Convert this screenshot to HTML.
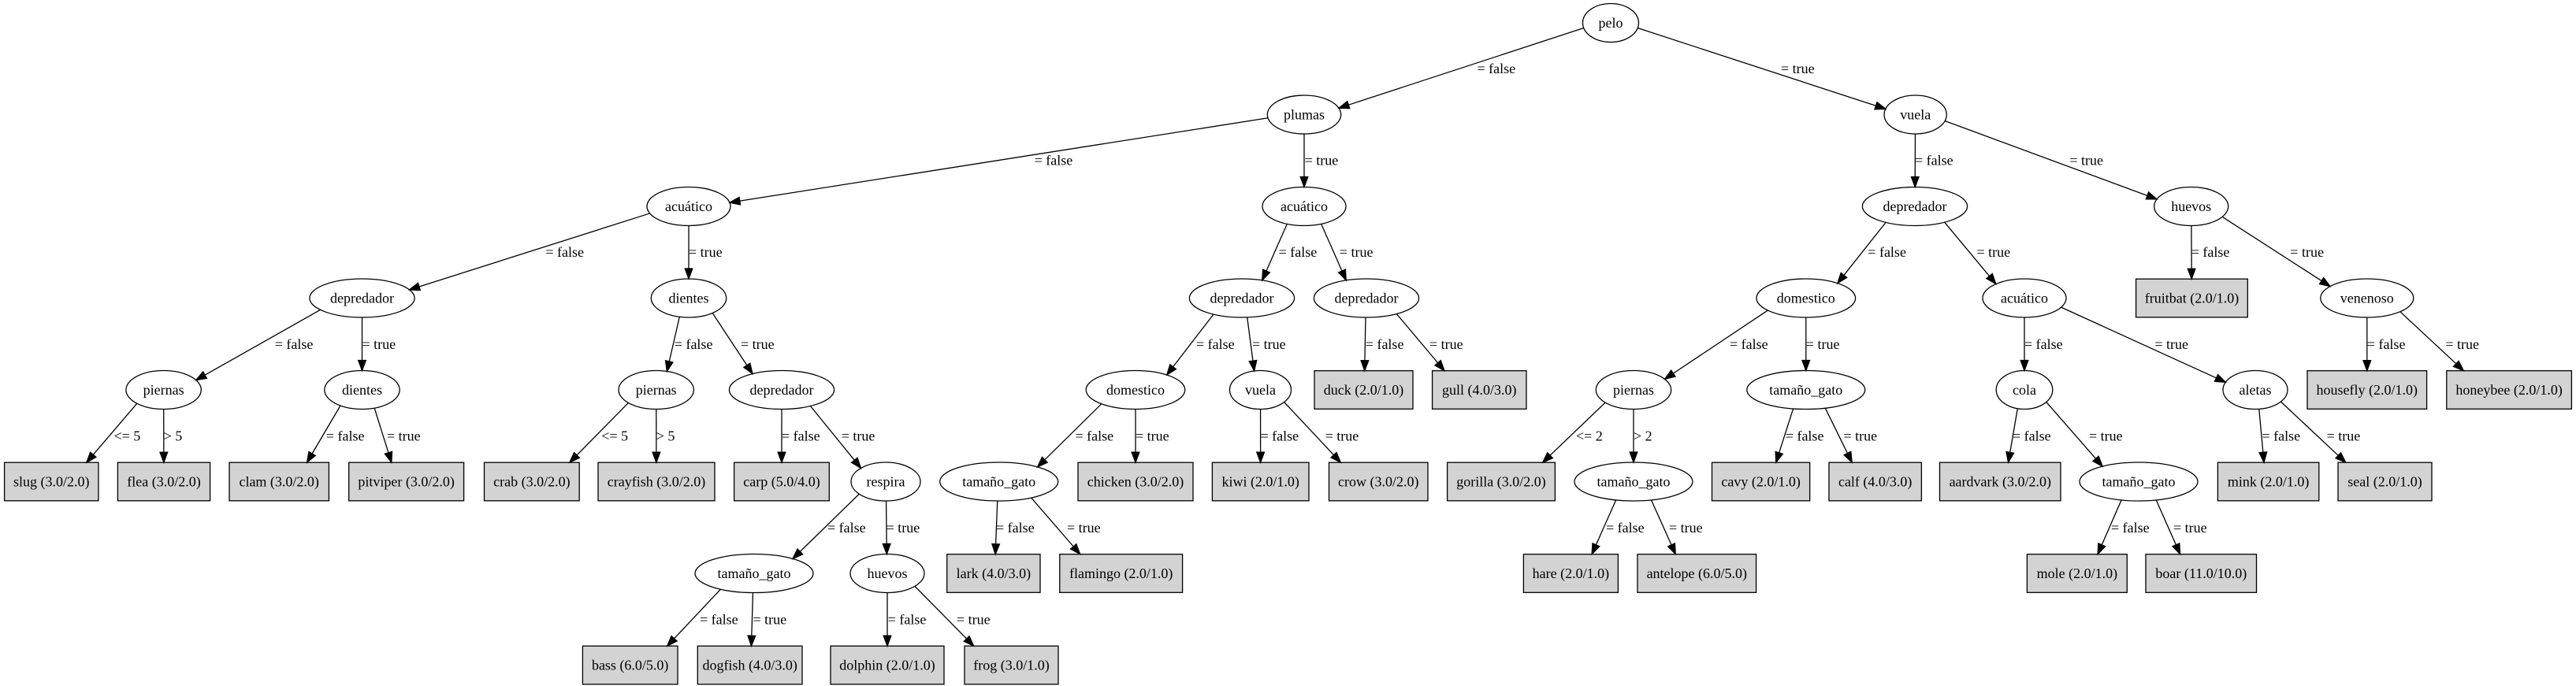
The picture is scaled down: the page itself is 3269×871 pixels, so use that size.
<!DOCTYPE html>
<html><head><meta charset="utf-8"><style>
html,body{margin:0;padding:0;background:#fff;}
svg{display:block;}
text{font-family:"Liberation Serif",serif;font-size:18px;fill:#000;}
.c{text-anchor:middle;}
</style></head><body>
<svg id="s" width="3269" height="871" viewBox="0 0 3269 871" xmlns="http://www.w3.org/2000/svg">
<rect width="3269" height="871" fill="#fff"/>
<g id="shapes"></g>
<g id="edges"></g>
<g id="ntext">
<text class="c" x="2044" y="35">pelo</text>
<text class="c" x="1655" y="151.5">plumas</text>
<text class="c" x="2430.7" y="151.5">vuela</text>
<text class="c" x="874" y="268">acuático</text>
<text class="c" x="1655" y="268">acuático</text>
<text class="c" x="2430" y="268">depredador</text>
<text class="c" x="2780.7" y="268">huevos</text>
<text class="c" x="459.5" y="384.5">depredador</text>
<text class="c" x="874" y="384.5">dientes</text>
<text class="c" x="1576" y="384.5">depredador</text>
<text class="c" x="1734" y="384.5">depredador</text>
<text class="c" x="2291.8" y="384.5">domestico</text>
<text class="c" x="2569" y="384.5">acuático</text>
<text class="c" x="2781.5" y="384.5">fruitbat (2.0/1.0)</text>
<text class="c" x="3003.8" y="384.5">venenoso</text>
<text class="c" x="207.6" y="501">piernas</text>
<text class="c" x="459.5" y="501">dientes</text>
<text class="c" x="832.7" y="501">piernas</text>
<text class="c" x="992" y="501">depredador</text>
<text class="c" x="1441" y="501">domestico</text>
<text class="c" x="1599.5" y="501">vuela</text>
<text class="c" x="1730.5" y="501">duck (2.0/1.0)</text>
<text class="c" x="1877.3" y="501">gull (4.0/3.0)</text>
<text class="c" x="2073" y="501">piernas</text>
<text class="c" x="2291.8" y="501">tamaño_gato</text>
<text class="c" x="2569" y="501">cola</text>
<text class="c" x="2862" y="501">aletas</text>
<text class="c" x="3003.8" y="501">housefly (2.0/1.0)</text>
<text class="c" x="3184.1" y="501">honeybee (2.0/1.0)</text>
<text class="c" x="65.3" y="617.5">slug (3.0/2.0)</text>
<text class="c" x="208" y="617.5">flea (3.0/2.0)</text>
<text class="c" x="354.2" y="617.5">clam (3.0/2.0)</text>
<text class="c" x="515.6" y="617.5">pitviper (3.0/2.0)</text>
<text class="c" x="674.9" y="617.5">crab (3.0/2.0)</text>
<text class="c" x="833" y="617.5">crayfish (3.0/2.0)</text>
<text class="c" x="992" y="617.5">carp (5.0/4.0)</text>
<text class="c" x="1124" y="617.5">respira</text>
<text class="c" x="1267.7" y="617.5">tamaño_gato</text>
<text class="c" x="1441" y="617.5">chicken (3.0/2.0)</text>
<text class="c" x="1599.7" y="617.5">kiwi (2.0/1.0)</text>
<text class="c" x="1749.3" y="617.5">crow (3.0/2.0)</text>
<text class="c" x="1905" y="617.5">gorilla (3.0/2.0)</text>
<text class="c" x="2073" y="617.5">tamaño_gato</text>
<text class="c" x="2234.6" y="617.5">cavy (2.0/1.0)</text>
<text class="c" x="2379.7" y="617.5">calf (4.0/3.0)</text>
<text class="c" x="2538.3" y="617.5">aardvark (3.0/2.0)</text>
<text class="c" x="2714" y="617.5">tamaño_gato</text>
<text class="c" x="2878.6" y="617.5">mink (2.0/1.0)</text>
<text class="c" x="3026.5" y="617.5">seal (2.0/1.0)</text>
<text class="c" x="957" y="734">tamaño_gato</text>
<text class="c" x="1126" y="734">huevos</text>
<text class="c" x="1260.9" y="734">lark (4.0/3.0)</text>
<text class="c" x="1422.7" y="734">flamingo (2.0/1.0)</text>
<text class="c" x="1993.4" y="734">hare (2.0/1.0)</text>
<text class="c" x="2153.3" y="734">antelope (6.0/5.0)</text>
<text class="c" x="2635.9" y="734">mole (2.0/1.0)</text>
<text class="c" x="2793.3" y="734">boar (11.0/10.0)</text>
<text class="c" x="799.7" y="850.5">bass (6.0/5.0)</text>
<text class="c" x="951.7" y="850.5">dogfish (4.0/3.0)</text>
<text class="c" x="1126" y="850.5">dolphin (2.0/1.0)</text>
<text class="c" x="1283.5" y="850.5">frog (3.0/1.0)</text>
</g>
<g id="elabels">
<text x="1874.5" y="93">= false</text>
<text x="2260" y="93">= true</text>
<text x="1312.6" y="209.5">= false</text>
<text x="1655.6" y="209.5">= true</text>
<text x="692.4" y="326">= false</text>
<text x="874" y="326">= true</text>
<text x="1622.6" y="326">= false</text>
<text x="1699.8" y="326">= true</text>
<text x="2430" y="209.5">= false</text>
<text x="2626.4" y="209.5">= true</text>
<text x="348.7" y="443">= false</text>
<text x="459.5" y="443">= true</text>
<text x="855.8" y="443">= false</text>
<text x="940" y="443">= true</text>
<text x="1518" y="443">= false</text>
<text x="1589" y="443">= true</text>
<text x="1732.8" y="443">= false</text>
<text x="1814" y="443">= true</text>
<text x="2370.3" y="326">= false</text>
<text x="2508.5" y="326">= true</text>
<text x="2780.7" y="326">= false</text>
<text x="2906.3" y="326">= true</text>
<text x="144.5" y="559.5">&lt;= 5</text>
<text x="207.6" y="559.5">&gt; 5</text>
<text x="413.9" y="559.5">= false</text>
<text x="491" y="559.5">= true</text>
<text x="763.2" y="559.5">&lt;= 5</text>
<text x="832.7" y="559.5">&gt; 5</text>
<text x="992" y="559.5">= false</text>
<text x="1067.7" y="559.5">= true</text>
<text x="1364.5" y="559.5">= false</text>
<text x="1441" y="559.5">= true</text>
<text x="1599.5" y="559.5">= false</text>
<text x="1681.6" y="559.5">= true</text>
<text x="2000" y="559.5">&lt;= 2</text>
<text x="2073" y="559.5">&gt; 2</text>
<text x="2195" y="443">= false</text>
<text x="2291.8" y="443">= true</text>
<text x="2569" y="443">= false</text>
<text x="2734.4" y="443">= true</text>
<text x="3003.8" y="443">= false</text>
<text x="3103.4" y="443">= true</text>
<text x="2265.8" y="559.5">= false</text>
<text x="2339.5" y="559.5">= true</text>
<text x="2554" y="559.5">= false</text>
<text x="2651" y="559.5">= true</text>
<text x="2870.5" y="559.5">= false</text>
<text x="2952.6" y="559.5">= true</text>
<text x="1050" y="676">= false</text>
<text x="1124.6" y="676">= true</text>
<text x="1264" y="676">= false</text>
<text x="1354" y="676">= true</text>
<text x="2038" y="676">= false</text>
<text x="2118" y="676">= true</text>
<text x="888" y="792.5">= false</text>
<text x="955.5" y="792.5">= true</text>
<text x="1126.7" y="792.5">= false</text>
<text x="1214" y="792.5">= true</text>
<text x="2679" y="676">= false</text>
<text x="2758" y="676">= true</text>
</g>
</svg>
<script>
var L=[29,145.5,262,378.5,495,611.5,728,844.5];
var RY=24.5,BH=24.3;
var N={};
function E(id,x,l,rx){N[id]={t:'e',x:x,y:L[l],rx:rx,hw:rx};}
function B(id,a,b,l){N[id]={t:'b',x:(a+b)/2,y:L[l],a:a,b:b,hw:(b-a)/2};}
E('pelo',2044,0,35.5);E('plumas',1655,1,46.7);E('vuelaR',2430.7,1,39.6);
E('acuA',874,2,53);E('acuB',1655,2,53);E('depC',2430,2,66.6);E('huevosD',2780.7,2,47);
E('depE',459.5,3,66.6);E('dientesF',874,3,47.7);E('depG',1576,3,66.6);E('depH',1734,3,66.6);
E('domI',2291.8,3,62.8);E('acuJ',2569,3,53);B('fruitbat',2710.6,2852.3,3);E('venK',3003.8,3,59);
E('piernasL',207.6,4,47.7);E('dientesM',459.5,4,47.7);E('piernasN',832.7,4,47.7);E('depO',992,4,66.6);
E('domP',1441,4,62.8);E('vuelaQ',1599.5,4,39);B('duck',1668,1793,4);B('gull',1817.6,1937,4);
E('piernasR',2073,4,47.7);E('tgS',2291.8,4,75);E('colaT',2569,4,35.8);E('aletasU',2862,4,41);
B('housefly',2928,3079.6,4);B('honeybee',3104.8,3263.4,4);
B('slug',5.6,124.9,5);B('flea',149.4,266.6,5);B('clam',291,417.4,5);B('pitviper',442.7,588.6,5);
B('crab',614.5,735.2,5);B('crayfish',759,907,5);B('carp',931.6,1052.3,5);E('respiraV',1124,5,44);
E('tgW',1267.7,5,75);B('chicken',1368,1514,5);B('kiwi',1538.4,1661,5);B('crow',1686.5,1812,5);
B('gorilla',1836.6,1973.4,5);E('tgX',2073,5,75);B('cavy',2172.5,2296.7,5);B('calf',2321,2438.4,5);
B('aardvark',2461.5,2615,5);E('tgY',2714,5,75);B('mink',2814.4,2942.8,5);B('seal',2967,3086,5);
E('tgZ',957,6,75);E('huevosAA',1126,6,47);B('lark',1201.7,1320,6);B('flamingo',1344.8,1500.6,6);
B('hare',1933.4,2053.4,6);B('antelope',2078,2228.6,6);B('mole',2572.4,2699.3,6);B('boar',2723,2863.5,6);
B('bass',739.4,860,7);B('dogfish',885.3,1018,7);B('dolphin',1054,1198,7);B('frog',1224,1343,7);
var ED=[['pelo','plumas'],['pelo','vuelaR'],['plumas','acuA'],['plumas','acuB'],['vuelaR','depC'],['vuelaR','huevosD'],
['acuA','depE'],['acuA','dientesF'],['acuB','depG'],['acuB','depH'],['depC','domI'],['depC','acuJ'],['huevosD','fruitbat'],['huevosD','venK'],
['depE','piernasL'],['depE','dientesM'],['dientesF','piernasN'],['dientesF','depO'],['depG','domP'],['depG','vuelaQ'],['depH','duck'],['depH','gull'],
['domI','piernasR'],['domI','tgS'],['acuJ','colaT'],['acuJ','aletasU'],['venK','housefly'],['venK','honeybee'],
['piernasL','slug'],['piernasL','flea'],['dientesM','clam'],['dientesM','pitviper'],['piernasN','crab'],['piernasN','crayfish'],
['depO','carp'],['depO','respiraV'],['domP','tgW'],['domP','chicken'],['vuelaQ','kiwi'],['vuelaQ','crow'],
['piernasR','gorilla'],['piernasR','tgX'],['tgS','cavy'],['tgS','calf'],['colaT','aardvark'],['colaT','tgY'],['aletasU','mink'],['aletasU','seal'],
['respiraV','tgZ'],['respiraV','huevosAA'],['tgW','lark'],['tgW','flamingo'],['tgX','hare'],['tgX','antelope'],['tgY','mole'],['tgY','boar'],
['tgZ','bass'],['tgZ','dogfish'],['huevosAA','dolphin'],['huevosAA','frog']];
var NS='http://www.w3.org/2000/svg';
function mk(t,at,par){var e=document.createElementNS(NS,t);for(var k in at)e.setAttribute(k,at[k]);par.appendChild(e);return e;}
var sh=document.getElementById('shapes'),eg=document.getElementById('edges');
for(var k in N){var n=N[k];
 if(n.t=='e')mk('ellipse',{cx:n.x,cy:n.y,rx:n.rx,ry:RY,fill:'#fff',stroke:'#000','stroke-width':1.3},sh);
 else mk('rect',{x:n.a,y:n.y-BH,width:n.b-n.a,height:2*BH,fill:'#d3d3d3',stroke:'#000','stroke-width':1.3},sh);}
function ins(n,x,y){if(n.t=='e'){var dx=(x-n.x)/n.rx,dy=(y-n.y)/RY;return dx*dx+dy*dy<1;}
 return x>=n.a&&x<=n.b&&y>=n.y-BH&&y<=n.y+BH;}
function bis(n,A,B,want){var lo=0,hi=1;for(var i=0;i<50;i++){var m=(lo+hi)/2;var p=[A[0]+(B[0]-A[0])*m,A[1]+(B[1]-A[1])*m];
 if(ins(n,p[0],p[1])==want)lo=m;else hi=m;}return lo;}
function cl(v,m){return Math.max(-m,Math.min(m,v));}
ED.forEach(function(e){var p=N[e[0]],c=N[e[1]];
 var A=[p.x+cl(0.15*(c.x-p.x),0.4*p.hw),p.y],Bp=[c.x+cl(0.2*(p.x-c.x),0.4*c.hw),c.y];
 var t0=bis(p,A,Bp,true),t1=bis(c,A,Bp,false);
 var S=[A[0]+(Bp[0]-A[0])*t0,A[1]+(Bp[1]-A[1])*t0],T=[A[0]+(Bp[0]-A[0])*t1,A[1]+(Bp[1]-A[1])*t1];
 var dx=T[0]-S[0],dy=T[1]-S[1],len=Math.sqrt(dx*dx+dy*dy),ux=dx/len,uy=dy/len,al=13,aw=4.8;
 var Q=[T[0]-ux*al,T[1]-uy*al];
 mk('line',{x1:S[0],y1:S[1],x2:Q[0],y2:Q[1],stroke:'#000','stroke-width':1.3},eg);
 mk('polygon',{points:T[0]+','+T[1]+' '+(Q[0]-uy*aw)+','+(Q[1]+ux*aw)+' '+(Q[0]+uy*aw)+','+(Q[1]-ux*aw),fill:'#000',stroke:'#000','stroke-width':1.3},eg);
});
</script>
</body></html>
